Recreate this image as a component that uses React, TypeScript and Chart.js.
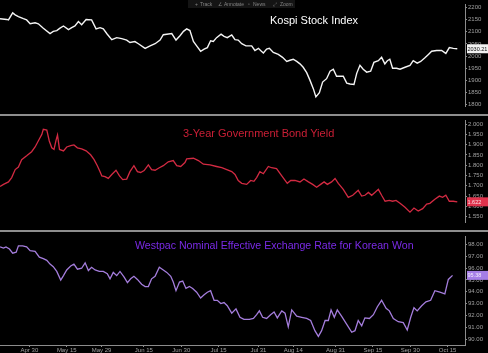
import React, { useEffect, useRef } from "react";
import { Chart, registerables } from "chart.js";
Chart.register(...registerables);

// x values are days counted from Apr 30
const tickDays = [0, 15, 29, 46, 61, 76, 92, 106, 123, 138, 153, 168];
const tickLabels = ["Apr 30", "May 15", "May 29", "Jun 15", "Jun 30", "Jul 15", "Jul 31", "Aug 14", "Aug 31", "Sep 15", "Sep 30", "Oct 15"];

const kospiDays = [-11.8, -9.1, -8.4, -6.7, -5.7, -4.4, -2.4, -1.1, 0.3, 2.3, 3.6, 5.6, 8.3, 9.6, 11.0, 12.3, 13.7, 15.7, 17.0, 18.3, 19.7, 21.0, 22.8, 25.0, 26.8, 28.4, 29.7, 31.3, 33.1, 35.1, 37.1, 39.1, 40.4, 42.4, 43.8, 46.5, 48.5, 50.5, 52.5, 53.8, 55.2, 57.2, 58.9, 60.5, 61.9, 63.2, 64.5, 65.9, 67.2, 68.8, 70.2, 71.5, 72.8, 73.9, 75.2, 77.0, 78.2, 79.5, 81.3, 82.6, 83.9, 85.3, 87.0, 89.3, 90.6, 92.0, 92.9, 94.0, 95.3, 96.4, 98.0, 100.0, 101.7, 103.4, 104.7, 106.0, 107.4, 108.7, 110.0, 111.4, 112.7, 114.1, 115.1, 116.5, 117.8, 119.4, 120.8, 122.1, 123.4, 126.1, 127.5, 128.8, 130.4, 131.5, 132.8, 134.1, 135.5, 137.1, 138.4, 140.2, 141.5, 142.8, 143.8, 144.8, 145.9, 147.5, 148.9, 150.9, 152.9, 154.2, 155.8, 157.2, 158.9, 160.3, 161.6, 163.6, 165.6, 167.3, 168.7, 170.3, 171.9];
const kospiValues = [2154, 2151, 2149, 2178, 2170, 2163, 2154, 2149, 2133, 2137, 2133, 2115, 2093, 2102, 2105, 2115, 2124, 2109, 2117, 2124, 2142, 2129, 2151, 2149, 2112, 2117, 2112, 2090, 2068, 2076, 2072, 2066, 2056, 2060, 2051, 2032, 2042, 2051, 2066, 2088, 2090, 2093, 2066, 2084, 2102, 2112, 2105, 2060, 2042, 2020, 2029, 2035, 2063, 2060, 2076, 2090, 2081, 2076, 2087, 2068, 2066, 2051, 2042, 2042, 2023, 2032, 2023, 2013, 2029, 2032, 2015, 2007, 1995, 1978, 1983, 1987, 1978, 1968, 1954, 1932, 1901, 1865, 1832, 1849, 1893, 1907, 1938, 1946, 1917, 1917, 1889, 1885, 1883, 1929, 1962, 1946, 1934, 1938, 1974, 1981, 1995, 1968, 1981, 1987, 1950, 1950, 1946, 1954, 1962, 1981, 1971, 1978, 1993, 2007, 2020, 2023, 2023, 2011, 2035, 2032, 2030.21];

const yieldDays = [-11.8, -10.4, -8.4, -7.1, -5.7, -4.4, -3.1, -1.1, 0.9, 2.3, 4.0, 5.0, 5.6, 7.0, 8.0, 9.0, 9.9, 10.7, 11.3, 12.1, 13.7, 15.0, 16.6, 17.9, 19.3, 21.0, 22.8, 24.6, 26.0, 27.3, 28.4, 29.1, 30.4, 31.7, 33.1, 34.8, 36.2, 37.5, 39.1, 40.4, 42.0, 43.4, 44.7, 46.1, 47.8, 49.1, 50.5, 52.2, 53.8, 55.8, 57.8, 59.2, 60.8, 62.5, 63.2, 65.9, 67.9, 69.9, 72.6, 75.2, 77.3, 79.3, 81.3, 82.6, 83.9, 85.3, 87.3, 88.9, 90.2, 91.3, 92.6, 94.0, 96.0, 97.3, 99.3, 101.4, 103.6, 105.0, 106.7, 108.7, 110.3, 112.1, 113.8, 115.4, 117.0, 118.4, 119.7, 121.4, 122.8, 124.1, 126.1, 128.1, 129.9, 132.1, 133.5, 134.8, 136.2, 137.5, 138.8, 140.2, 141.5, 142.9, 144.6, 145.9, 147.3, 148.9, 150.9, 152.9, 154.5, 156.2, 158.0, 159.6, 160.9, 162.9, 164.7, 166.0, 167.3, 168.7, 170.3, 171.9];
const yieldValues = [1.697, 1.707, 1.719, 1.740, 1.779, 1.791, 1.827, 1.846, 1.866, 1.889, 1.928, 1.950, 1.975, 1.971, 1.918, 1.885, 1.877, 1.921, 1.947, 1.877, 1.870, 1.889, 1.895, 1.899, 1.885, 1.880, 1.870, 1.851, 1.827, 1.798, 1.769, 1.748, 1.745, 1.736, 1.755, 1.776, 1.748, 1.730, 1.733, 1.769, 1.798, 1.769, 1.765, 1.774, 1.802, 1.779, 1.776, 1.788, 1.798, 1.817, 1.823, 1.798, 1.794, 1.813, 1.831, 1.834, 1.823, 1.805, 1.802, 1.794, 1.788, 1.779, 1.769, 1.755, 1.726, 1.712, 1.707, 1.726, 1.722, 1.740, 1.769, 1.759, 1.794, 1.788, 1.784, 1.748, 1.712, 1.726, 1.726, 1.719, 1.733, 1.719, 1.707, 1.693, 1.707, 1.719, 1.707, 1.719, 1.736, 1.712, 1.683, 1.644, 1.654, 1.678, 1.650, 1.654, 1.668, 1.654, 1.668, 1.683, 1.654, 1.625, 1.629, 1.625, 1.629, 1.615, 1.596, 1.572, 1.592, 1.577, 1.589, 1.611, 1.615, 1.635, 1.650, 1.644, 1.654, 1.625, 1.625, 1.622];

const wonDays = [-11.8, -10.4, -9.4, -8.0, -6.7, -5.3, -4.4, -2.7, -1.1, 0.3, 2.3, 4.0, 5.6, 7.0, 8.3, 9.6, 11.0, 12.6, 13.7, 15.0, 16.6, 17.9, 19.3, 21.0, 22.4, 23.7, 25.0, 26.4, 28.1, 29.7, 31.3, 32.4, 33.7, 35.1, 36.4, 38.0, 39.4, 40.7, 42.0, 43.4, 45.1, 46.5, 47.8, 49.1, 50.5, 52.2, 53.8, 55.2, 56.8, 57.8, 58.9, 60.3, 61.6, 62.9, 64.3, 65.6, 67.2, 68.8, 70.2, 71.5, 72.8, 74.2, 75.5, 76.9, 78.2, 79.5, 81.3, 83.0, 84.6, 86.2, 88.4, 90.0, 91.3, 92.4, 93.7, 95.3, 96.9, 98.3, 99.6, 101.4, 102.7, 104.0, 105.4, 107.4, 109.4, 111.4, 113.0, 114.7, 116.1, 117.4, 118.8, 120.1, 121.2, 122.5, 123.7, 125.4, 127.5, 129.5, 130.8, 132.1, 133.5, 134.8, 136.6, 138.2, 139.8, 141.5, 143.3, 144.6, 146.2, 148.2, 150.2, 151.8, 153.2, 154.5, 155.8, 157.6, 159.3, 161.2, 162.9, 164.9, 166.9, 168.3, 170.0];
const wonValues = [97.78, 97.68, 97.78, 97.60, 97.25, 97.33, 97.87, 97.87, 97.78, 97.46, 97.41, 96.92, 96.79, 96.65, 96.33, 96.11, 95.71, 94.98, 95.36, 95.84, 96.17, 96.33, 95.90, 95.98, 96.44, 95.79, 96.06, 95.84, 95.71, 95.71, 95.52, 95.09, 95.63, 95.36, 95.71, 95.25, 94.77, 95.09, 95.30, 95.04, 94.63, 94.44, 94.44, 95.09, 95.30, 96.06, 95.84, 95.63, 95.30, 94.82, 94.09, 94.82, 94.90, 94.28, 94.44, 94.28, 93.96, 93.47, 93.74, 93.96, 94.09, 93.28, 93.28, 93.01, 93.09, 92.82, 92.20, 92.56, 91.85, 91.67, 91.67, 91.75, 92.07, 92.39, 91.85, 91.75, 92.07, 92.29, 91.80, 92.39, 92.20, 91.05, 92.47, 91.94, 91.85, 91.75, 91.58, 90.72, 90.24, 90.72, 91.58, 91.58, 92.47, 91.85, 92.47, 91.94, 91.26, 90.59, 90.72, 91.58, 91.13, 91.80, 91.75, 92.07, 92.74, 93.28, 92.61, 92.39, 91.75, 91.48, 91.40, 90.78, 91.85, 92.66, 92.39, 92.82, 93.15, 93.28, 94.09, 93.96, 93.82, 95.04, 95.38];

const kospiTicks = [1800, 1850, 1900, 1950, 2000, 2050, 2100, 2150, 2200];
const yieldTicks = [1.55, 1.6, 1.65, 1.7, 1.75, 1.8, 1.85, 1.9, 1.95, 2.0];
const wonTicks = [90, 91, 92, 93, 94, 95, 96, 97, 98];

const FONT = "'Liberation Sans', Arial, sans-serif";
const AXIS_GRAY = "#8c8c8c";
const LABEL_GRAY = "#a0a0a0";

const lastBox = {
  id: "lastBox",
  afterDraw(chart: any, _a: any, opts: any) {
    const ys = chart.scales.y;
    const y = ys.getPixelForValue(opts.value);
    const ctx = chart.ctx;
    const x0 = chart.chartArea.right + 2;
    ctx.save();
    ctx.fillStyle = opts.bg;
    ctx.fillRect(x0, y - 4.5, chart.width - x0, 9);
    ctx.fillStyle = opts.fg;
    ctx.font = `5.5px ${FONT}`;
    ctx.textBaseline = "middle";
    ctx.textAlign = "left";
    ctx.fillText(opts.text, x0 + 0.5, y + 0.5);
    ctx.restore();
  },
};

type Cfg = {
  days: number[];
  values: number[];
  color: string;
  width: number;
  yMin: number;
  yMax: number;
  yTicks: number[];
  fmt: (v: number) => string;
  showX: boolean;
  boxBg: string;
  boxFg: string;
};

function build(canvas: HTMLCanvasElement, c: Cfg) {
  const last = c.values[c.values.length - 1];
  return new Chart(canvas, {
    type: "line",
    data: {
      datasets: [
        {
          data: c.days.map((d, i) => ({ x: d, y: c.values[i] })),
          borderColor: c.color,
          borderWidth: c.width,
          pointRadius: 0,
          tension: 0,
          fill: false,
        },
      ],
    },
    options: {
      animation: false,
      responsive: false,
      devicePixelRatio: 1,
      layout: { padding: 0 },
      plugins: {
        legend: { display: false },
        tooltip: { enabled: false },
        lastBox: { value: last, bg: c.boxBg, fg: c.boxFg, text: c.fmt(last) },
      } as any,
      scales: {
        x: {
          type: "linear",
          min: -11.8,
          max: 175,
          display: c.showX,
          afterBuildTicks: (s: any) => {
            s.ticks = tickDays.map((v) => ({ value: v }));
          },
          afterFit: (s: any) => {
            s.height = 8;
          },
          ticks: {
            autoSkip: false,
            maxRotation: 0,
            padding: 0,
            color: LABEL_GRAY,
            font: { size: 6, family: FONT },
            callback: (v: any) => {
              const i = tickDays.indexOf(Number(v));
              return i >= 0 ? tickLabels[i] : "";
            },
          },
          grid: { drawOnChartArea: false, tickLength: 2, color: AXIS_GRAY },
          border: { display: true, color: AXIS_GRAY, width: 1 },
        },
        y: {
          position: "right",
          min: c.yMin,
          max: c.yMax,
          afterBuildTicks: (s: any) => {
            s.ticks = c.yTicks.map((v) => ({ value: v }));
          },
          afterFit: (s: any) => {
            s.width = 23;
          },
          ticks: {
            padding: 1,
            color: LABEL_GRAY,
            font: { size: 6, family: FONT },
            callback: (v: any) => c.fmt(Number(v)),
          },
          grid: { drawOnChartArea: false, tickLength: 2, color: AXIS_GRAY },
          border: { display: true, color: AXIS_GRAY, width: 1 },
        },
      },
    },
    plugins: [lastBox],
  } as any);
}

export default function App() {
  const r1 = useRef<HTMLCanvasElement>(null);
  const r2 = useRef<HTMLCanvasElement>(null);
  const r3 = useRef<HTMLCanvasElement>(null);

  useEffect(() => {
    const charts = [
      build(r1.current!, {
        days: kospiDays,
        values: kospiValues,
        color: "#f4f4f4",
        width: 1.4,
        yMin: 1794.5,
        yMax: 2212.1,
        yTicks: kospiTicks,
        fmt: (v) => (Number.isInteger(v) ? String(v) : v.toFixed(2)),
        showX: false,
        boxBg: "#f2f2f2",
        boxFg: "#111",
      }),
      build(r2.current!, {
        days: yieldDays,
        values: yieldValues,
        color: "#d22a42",
        width: 1.3,
        yMin: 1.524,
        yMax: 2.0173,
        yTicks: yieldTicks,
        fmt: (v) => v.toFixed(3),
        showX: false,
        boxBg: "#e0324c",
        boxFg: "#fbe0e4",
      }),
      build(r3.current!, {
        days: wonDays,
        values: wonValues,
        color: "#a47ddc",
        width: 1.3,
        yMin: 89.515,
        yMax: 98.646,
        yTicks: wonTicks,
        fmt: (v) => v.toFixed(2),
        showX: true,
        boxBg: "#a57ee6",
        boxFg: "#f3ecfc",
      }),
    ];
    return () => charts.forEach((ch) => ch.destroy());
  }, []);

  const title = (text: string, left: number, top: number, color: string, size = 11) => (
    <div
      style={{
        position: "absolute",
        left,
        top,
        color,
        font: `${size}px ${FONT}`,
        lineHeight: "12px",
        whiteSpace: "nowrap",
      }}
    >
      {text}
    </div>
  );

  const tool = (icon: string, text: string, iconLeft: number, textLeft: number) => (
    <>
      <span style={{ position: "absolute", left: iconLeft, top: 0 }}>{icon}</span>
      <span style={{ position: "absolute", left: textLeft, top: 0, whiteSpace: "nowrap" }}>{text}</span>
    </>
  );

  return (
    <div
      style={{
        position: "absolute",
        left: 0,
        top: 0,
        width: 488,
        height: 353,
        background: "#000",
        overflow: "hidden",
      }}
    >
      <canvas ref={r1} width={488} height={114} style={{ position: "absolute", left: 0, top: 0 }} />
      <div style={{ position: "absolute", left: 0, top: 114, width: 488, height: 2, background: "#8e8e8e" }} />
      <canvas ref={r2} width={488} height={114} style={{ position: "absolute", left: 0, top: 116 }} />
      <div style={{ position: "absolute", left: 0, top: 230, width: 488, height: 2, background: "#8e8e8e" }} />
      <canvas ref={r3} width={488} height={121} style={{ position: "absolute", left: 0, top: 232 }} />

      {title("Kospi Stock Index", 270, 14, "#ffffff")}
      {title("3-Year Government Bond Yield", 183, 127, "#cc1f36")}
      {title("Westpac Nominal Effective Exchange Rate for Korean Won", 135, 239, "#7a2ae6", 10.6)}

      <div
        style={{
          position: "absolute",
          left: 188,
          top: 0,
          width: 107,
          height: 8,
          background: "#141414",
          color: "#858585",
          font: `5px ${FONT}`,
          lineHeight: "8px",
        }}
      >
        {tool("+", "Track", 7, 12)}
        {tool("∠", "Annotate", 30, 36)}
        {tool("▫", "News", 60, 65)}
        {tool("⤢", "Zoom", 85, 92)}
      </div>
    </div>
  );
}
